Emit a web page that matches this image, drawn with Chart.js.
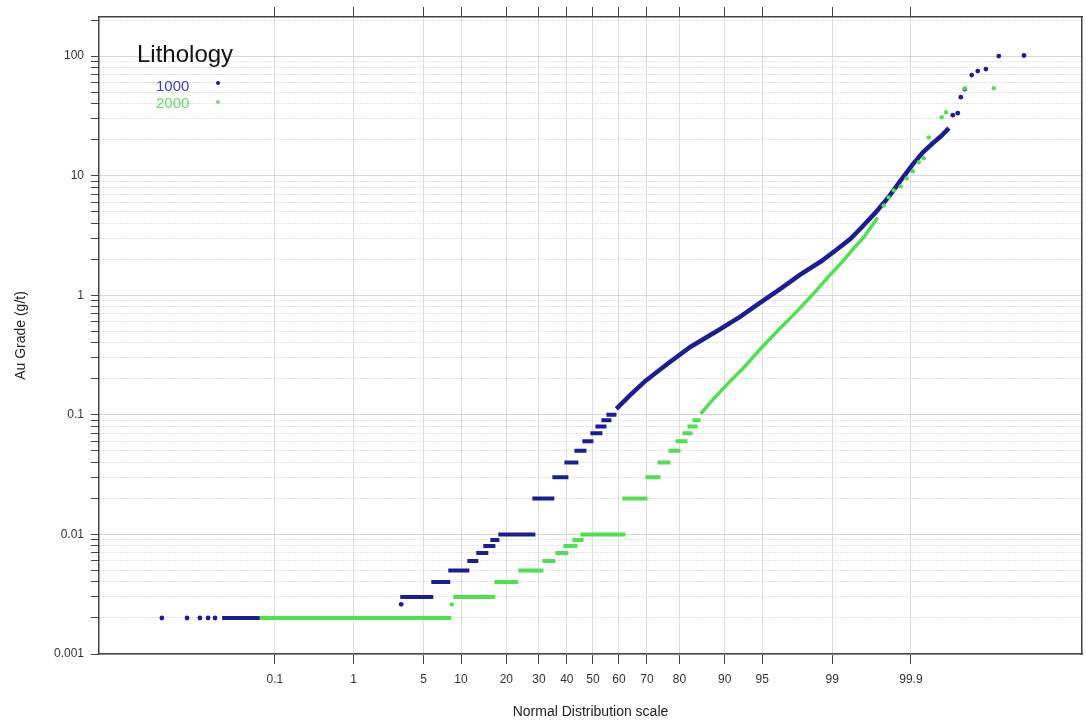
<!DOCTYPE html>
<html>
<head>
<meta charset="utf-8">
<script src="https://cdn.jsdelivr.net/npm/chart.js@4"></script>
<style>
  body { margin: 0; background: #fff; }
  #wrap { position: relative; width: 1086px; height: 725px; }
  .lg { position: absolute; font-family: "Liberation Sans", Arial, sans-serif; white-space: nowrap; }
  .dot { position: absolute; width: 4px; height: 4px; border-radius: 50%; }
</style>
</head>
<body>
<div id="wrap">
  <canvas id="myChart" width="1086" height="725"></canvas>
  <div class="lg" style="left:137px;top:40px;font-size:24px;color:#111;">Lithology</div>
  <div class="lg" style="left:156px;top:77px;font-size:15px;color:#3a3ac4;">1000</div>
  <div class="dot" style="left:216px;top:81px;background:#1c1c8c;"></div>
  <div class="lg" style="left:156px;top:94px;font-size:15px;color:#5ede5e;">2000</div>
  <div class="dot" style="left:216px;top:100px;background:#7bd87b;"></div>
</div>
<script>
// tick positions on the probability axis (percent)
const probTicks = [0.1, 1, 5, 10, 20, 30, 40, 50, 60, 70, 80, 90, 95, 99, 99.9];
const probLabels = ['0.1', '1', '5', '10', '20', '30', '40', '50', '60', '70', '80', '90', '95', '99', '99.9'];
const gradeLabels = ['0.001', '0.01', '0.1', '1', '10', '100'];

// Lithology 1000 - detection limit steps (grade, from %, to %)
const blueStepGrade = [0.002, 0.003, 0.004, 0.005, 0.006, 0.007, 0.008, 0.009, 0.01, 0.02, 0.03, 0.04, 0.05, 0.06, 0.07, 0.08, 0.09, 0.1];
const blueStepFrom = [0.0157, 3.06, 5.81, 7.99, 11.11, 12.85, 14.34, 15.94, 17.90, 27.81, 34.68, 39.08, 42.86, 45.93, 49.03, 50.97, 53.30, 55.22];
const blueStepTo = [3.06, 6.04, 8.28, 11.48, 13.27, 15.47, 17.15, 18.15, 28.80, 35.40, 40.58, 44.39, 47.48, 50.19, 53.68, 55.22, 57.14, 59.04];
// Lithology 1000 - continuous part
const blueCurveP = [59.0, 64.2, 69.5, 76.6, 82.9, 88.7, 92.4, 94.5, 96.6, 97.8, 98.66, 99.08, 99.39, 99.56, 99.70, 99.80, 99.861, 99.906, 99.933, 99.952, 99.964, 99.973];
const blueCurveGrade = [0.112, 0.147, 0.192, 0.267, 0.371, 0.505, 0.662, 0.834, 1.136, 1.488, 1.913, 2.365, 2.982, 3.758, 4.925, 6.71, 9.13, 12.44, 15.68, 18.65, 21.35, 24.92];
// Lithology 1000 - single samples
const blueDotP = [0.0014, 0.004, 0.0067, 0.0092, 0.012, 3.12, 99.9765, 99.9804, 99.9825, 99.9849, 99.9884, 99.9908, 99.9933, 99.996, 99.9986];
const blueDotGrade = [0.002, 0.002, 0.002, 0.002, 0.002, 0.0026, 32.0, 33.3, 45.3, 52.9, 69.3, 74.9, 77.8, 100, 101];

// Lithology 2000
const greenStepGrade = [0.002, 0.003, 0.004, 0.005, 0.006, 0.007, 0.008, 0.009, 0.01, 0.02, 0.03, 0.04, 0.05, 0.06, 0.07, 0.08, 0.09];
const greenStepFrom = [0.06, 8.74, 16.90, 23.43, 31.16, 35.76, 38.71, 42.10, 45.16, 61.29, 69.52, 73.48, 76.87, 78.89, 80.80, 82.10, 83.35];
const greenStepTo = [8.43, 17.15, 23.43, 31.51, 35.76, 40.58, 44.01, 46.32, 62.40, 70.20, 74.43, 77.45, 80.27, 82.10, 83.35, 84.53, 85.22];
const greenCurveP = [85.22, 87.94, 90.63, 92.84, 94.84, 96.37, 97.56, 98.40, 98.87, 99.20, 99.42, 99.575, 99.718];
const greenCurveGrade = [0.102, 0.136, 0.185, 0.247, 0.357, 0.505, 0.715, 1.031, 1.405, 1.840, 2.411, 3.04, 4.47];
const greenDotP = [8.5, 99.764, 99.798, 99.827, 99.861, 99.885, 99.906, 99.923, 99.935, 99.945, 99.965, 99.970, 99.9849, 99.9951];
const greenDotGrade = [0.0026, 5.64, 6.58, 7.53, 8.13, 9.49, 10.87, 12.93, 13.96, 20.9, 30.8, 33.9, 53.6, 53.9];

const blueColor = '#1c1c96';
const greenColor = '#4fe04f';

// inverse normal cdf (Acklam) - turns a percentage into a normal score
function probit(pct) {
    var p = pct / 100;
    var a = [-3.969683028665376e+01, 2.209460984245205e+02, -2.759285104469687e+02, 1.383577518672690e+02, -3.066479806614716e+01, 2.506628277459239e+00];
    var b = [-5.447609879822406e+01, 1.615858368580409e+02, -1.556989798598866e+02, 6.680131188771972e+01, -1.328068155288572e+01];
    var c = [-7.784894002430293e-03, -3.223964580411365e-01, -2.400758277161838e+00, -2.549732539343734e+00, 4.374664141464968e+00, 2.938163982698783e+00];
    var d = [7.784695709041462e-03, 3.224671290700398e-01, 2.445134137142996e+00, 3.754408661907416e+00];
    var q, r;
    if (p < 0.02425) {
        q = Math.sqrt(-2 * Math.log(p));
        return (((((c[0] * q + c[1]) * q + c[2]) * q + c[3]) * q + c[4]) * q + c[5]) / ((((d[0] * q + d[1]) * q + d[2]) * q + d[3]) * q + 1);
    }
    if (p > 1 - 0.02425) {
        q = Math.sqrt(-2 * Math.log(1 - p));
        return -(((((c[0] * q + c[1]) * q + c[2]) * q + c[3]) * q + c[4]) * q + c[5]) / ((((d[0] * q + d[1]) * q + d[2]) * q + d[3]) * q + 1);
    }
    q = p - 0.5;
    r = q * q;
    return (((((a[0] * r + a[1]) * r + a[2]) * r + a[3]) * r + a[4]) * r + a[5]) * q / (((((b[0] * r + b[1]) * r + b[2]) * r + b[3]) * r + b[4]) * r + 1);
}

function steps(grade, from, to) {
    var out = [];
    for (var i = 0; i < grade.length; i++) {
        out.push({x: probit(from[i]), y: grade[i]});
        out.push({x: probit(to[i]), y: grade[i]});
        out.push({x: probit(to[i]), y: null}); // break the line
    }
    return out;
}
function points(p, grade) {
    return p.map(function (v, i) { return {x: probit(v), y: grade[i]}; });
}

const xMin = -4.8, xMax = 4.753;
const yMin = 0.001, yMax = 212;
const font = "'Liberation Sans', Arial, sans-serif";

function probTickList(scale) {
    scale.ticks = probTicks.map(function (p) { return {value: probit(p)}; });
}
function gradeTickList(scale) {
    var t = [];
    for (var e = -3; e <= 2; e++) {
        for (var m = 1; m <= 9; m++) {
            var v = m * Math.pow(10, e);
            if (v <= yMax * 1.0001) t.push({value: v, major: m === 1});
        }
    }
    scale.ticks = t;
}
function isDecade(v) {
    var l = Math.log10(v);
    return Math.abs(l - Math.round(l)) < 1e-6;
}

const ctx = document.getElementById('myChart');
new Chart(ctx, {
    type: 'line',
    data: {
        datasets: [{
            label: '2000 dots', data: points(greenDotP, greenDotGrade), order: 0,
            showLine: false, pointRadius: 2.2, pointBackgroundColor: greenColor, pointBorderWidth: 0
        }, {
            label: '2000 curve', data: points(greenCurveP, greenCurveGrade), order: 1,
            borderColor: greenColor, borderWidth: 3.5, pointRadius: 0
        }, {
            label: '2000 steps', data: steps(greenStepGrade, greenStepFrom, greenStepTo), order: 2,
            borderColor: greenColor, borderWidth: 4, pointRadius: 0, borderCapStyle: 'butt', spanGaps: false
        }, {
            label: '1000 dots', data: points(blueDotP, blueDotGrade), order: 3,
            showLine: false, pointRadius: 2.4, pointBackgroundColor: blueColor, pointBorderWidth: 0
        }, {
            label: '1000 curve', data: points(blueCurveP, blueCurveGrade), order: 4,
            borderColor: blueColor, borderWidth: 4.5, pointRadius: 0
        }, {
            label: '1000 steps', data: steps(blueStepGrade, blueStepFrom, blueStepTo), order: 5,
            borderColor: blueColor, borderWidth: 4, pointRadius: 0, borderCapStyle: 'butt', spanGaps: false
        }]
    },
    options: {
        responsive: false,
        animation: false,
        layout: {padding: 0},
        plugins: {legend: {display: false}, tooltip: {enabled: false}},
        scales: {
            x: {
                type: 'linear', position: 'bottom', min: xMin, max: xMax,
                afterBuildTicks: probTickList,
                afterFit: function (s) { s.height = 71; },
                ticks: {
                    autoSkip: false, maxRotation: 0, padding: 8, color: '#333',
                    font: {family: font, size: 12},
                    callback: function (v, i) { return probLabels[i]; }
                },
                grid: {color: '#dedede', lineWidth: 1, tickLength: 10, tickColor: '#444'},
                border: {color: '#444', width: 1.5},
                title: {display: true, text: 'Normal Distribution scale', color: '#222', font: {family: font, size: 14}, padding: {bottom: 4}}
            },
            x2: {
                type: 'linear', position: 'top', min: xMin, max: xMax,
                afterBuildTicks: probTickList,
                afterFit: function (s) { s.height = 17; },
                ticks: {display: false},
                grid: {drawOnChartArea: false, tickLength: 10, tickColor: '#444'},
                border: {color: '#444', width: 1.5}
            },
            y: {
                type: 'logarithmic', position: 'left', min: yMin, max: yMax,
                afterBuildTicks: gradeTickList,
                afterFit: function (s) { s.width = 99; },
                ticks: {
                    autoSkip: false, padding: 7, color: '#333',
                    font: {family: font, size: 12},
                    callback: function (v) { return isDecade(v) ? gradeLabels[Math.round(Math.log10(v)) + 3] : ''; }
                },
                grid: {
                    color: function (c) { return c.tick && isDecade(c.tick.value) ? '#d6d6d6' : '#c4c4c4'; },
                    lineWidth: 1, tickLength: 8, tickColor: '#444'
                },
                border: {
                    color: '#444', width: 1.5,
                    dash: function (c) { return c.tick && !isDecade(c.tick.value) ? [1, 2] : []; }
                },
                title: {display: true, text: 'Au Grade (g/t)', color: '#222', font: {family: font, size: 14}, padding: {top: 13}}
            },
            y2: {
                type: 'logarithmic', position: 'right', min: yMin, max: yMax,
                afterFit: function (s) { s.width = 0; },
                ticks: {display: false},
                grid: {drawOnChartArea: false, drawTicks: false},
                border: {color: '#444', width: 1.5}
            }
        }
    }
});
</script>
</body>
</html>
